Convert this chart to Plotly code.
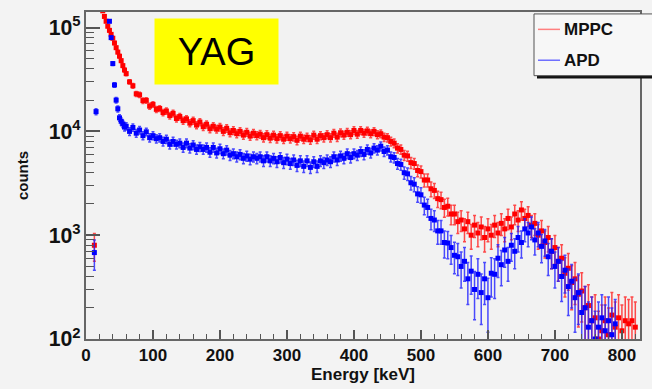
import numpy as np
import plotly.graph_objects as go

# ---------------- data ----------------
# bin centres [keV]: 2.5 keV steps below 60 keV, 5 keV steps above
energy_low = np.arange(12.5, 60, 2.5)
energy_high = np.arange(60, 825, 5)
energy = np.concatenate([energy_low, energy_high])

mppc_low = [800, 300000, 260000, 220000, 180000, 145000, 128000, 115000, 103000, 94000,
            86000, 79000, 71000, 64000, 58000, 53000, 48000, 43000, 39000]
mppc_high = [
    36000, 30000, 27500, 23000, 22500, 19800, 19900, 17500, 18200, 16300,   # 60-105
    16600, 15200, 15700, 14200, 14900, 13300, 13900, 12700, 13200, 12000,   # 110-155
    12700, 11500, 12300, 11100, 11700, 10600, 11200, 10500, 11000, 10000,   # 160-205
    10700, 9700, 10200, 9500, 10000, 9200, 9800, 9000, 9600, 9100,          # 210-255
    9400, 8700, 9300, 8600, 9200, 8500, 9100, 8400, 9000, 8500,             # 260-305
    8900, 8200, 9000, 8400, 8800, 8300, 9200, 8400, 9100, 8700,             # 310-355
    9300, 8700, 9600, 8800, 9700, 9200, 9800, 9300, 10200, 9400,            # 360-405
    10200, 9600, 10100, 9500, 10000, 9300, 9500, 8800, 8700, 8000,          # 410-455
    7700, 6900, 6700, 5900, 5800, 5000, 4900, 4200, 4100, 3400,             # 460-505
    3400, 2800, 2700, 2250, 2200, 1850, 1900, 1600, 1600, 1350,             # 510-555
    1400, 1150, 1350, 1000, 1250, 1050, 1200, 950, 1150, 1000,              # 560-605
    1250, 1050, 1300, 1150, 1450, 1200, 1600, 1400, 1750, 1450,             # 610-655
    1550, 1250, 1300, 1000, 1100, 850, 950, 700, 760, 560,                  # 660-705
    600, 430, 480, 350, 380, 270, 290, 200, 210, 150,                       # 710-755
    160, 100, 120, 150, 110, 170, 130, 160, 120, 150,                       # 760-805
    140, 150, 130,                                                          # 810-820
]

apd_low = [680, 15500, 400000, 350000, 300000, 260000, 220000, 190000, 165000, 115000,
           80000, 45000, 28000, 20000, 16500, 13500, 12500, 11800, 11000]
apd_high = [
    11200, 10000, 10900, 9600, 10300, 9100, 9900, 8700, 9100, 8500,         # 60-105
    8700, 8000, 8400, 7500, 8000, 7500, 7700, 7000, 7700, 6900,             # 110-155
    7400, 6700, 7100, 6700, 7000, 6300, 7000, 6200, 6800, 6100,             # 160-205
    6600, 5900, 6100, 5700, 6000, 5500, 5800, 5400, 5700, 5500,             # 210-255
    5700, 5200, 5700, 5200, 5500, 5100, 5600, 5000, 5400, 4900,             # 260-305
    5300, 4700, 5200, 4600, 5200, 4500, 5100, 4600, 5200, 5000,             # 310-355
    5300, 5100, 5700, 5300, 5800, 5500, 6100, 5600, 6100, 5900,             # 360-405
    6400, 6000, 6700, 6200, 6900, 6600, 7200, 6400, 6600, 5700,             # 410-455
    5600, 4900, 4800, 4000, 3900, 3200, 3100, 2500, 2450, 1950,             # 460-505
    1850, 1450, 1400, 1100, 1100, 850, 840, 760, 640, 620,                  # 510-555
    500, 560, 380, 450, 300, 420, 280, 380, 250, 430,                       # 560-605
    420, 600, 520, 720, 560, 800, 700, 950, 850, 1150,                      # 610-655
    1050, 1200, 900, 1050, 780, 880, 620, 700, 500, 560,                    # 660-705
    400, 460, 320, 360, 250, 280, 180, 200, 130, 150,                       # 710-755
    100, 130, 160, 120, 150, 110, 140, None, None, None,                    # 760-805
    None, None, None,                                                       # 810-820
]

series_names = ["MPPC", "APD"]
series_colors = ["#ff0000", "#0000ff"]
legend_line_colors = ["#ff8080", "#7070ff"]
x_ticks = [0, 100, 200, 300, 400, 500, 600, 700, 800]

COUNTS_PER_EVENT = 72.0   # histogram scale -> Poisson error bars

mppc = np.array(mppc_low + mppc_high, dtype=float)
apd = np.array(apd_low + [np.nan if v is None else v for v in apd_high], dtype=float)
mppc_err = np.sqrt(COUNTS_PER_EVENT * mppc)
apd_err = np.sqrt(COUNTS_PER_EVENT * apd)

FONT = "Arial, Liberation Sans, sans-serif"

# plot-area geometry in pixels (for paper-coordinate placement of decorations)
L, T, W, H = 86, 10, 554, 339
def px(xp):
    return (xp - L) / W
def py(yp):
    return 1 - (yp - T) / H

fig = go.Figure()
for name, y, err, col, ecol in [
    (series_names[0], mppc, mppc_err, series_colors[0], "rgba(255,30,30,0.8)"),
    (series_names[1], apd, apd_err, series_colors[1], "rgba(30,30,255,0.8)"),
]:
    fig.add_trace(go.Scatter(
        x=energy, y=y, mode="markers", name=name, showlegend=False,
        marker=dict(symbol="square", size=5, color=col, line=dict(width=0)),
        error_y=dict(type="data", array=err, visible=True, color=ecol,
                     thickness=1.5, width=1.5),
    ))

# ---- legend box (ROOT style, with drop shadow) ----
shapes = [
    dict(type="rect", xref="paper", yref="paper", layer="above",
         x0=px(537), x1=px(660), y0=py(79), y1=py(15),
         fillcolor="#111", line=dict(width=0)),
    dict(type="rect", xref="paper", yref="paper", layer="above",
         x0=px(534), x1=px(660), y0=py(76), y1=py(12),
         fillcolor="#f7f7f7", line=dict(color="#555", width=1)),
]
annotations = []
for i, (name, lc) in enumerate(zip(series_names, legend_line_colors)):
    yc = 28 + 32 * i
    shapes.append(dict(type="line", xref="paper", yref="paper", layer="above",
                       x0=px(538), x1=px(560), y0=py(yc), y1=py(yc),
                       line=dict(color=lc, width=1.5)))
    annotations.append(dict(text=name, xref="paper", yref="paper",
                            x=px(562), y=py(yc), xanchor="left", yanchor="middle",
                            showarrow=False,
                            font=dict(family=FONT, size=17, weight="bold", color="#111")))

annotations.append(dict(
    text="YAG", xref="paper", yref="paper", x=px(216.5), y=py(50.5),
    xanchor="center", yanchor="middle", showarrow=False,
    bgcolor="#ffff00", width=123, height=65, borderpad=0,
    font=dict(family=FONT, size=38, color="#000"),
))

fig.update_layout(
    width=652, height=389,
    margin=dict(l=L, r=652 - L - W, t=T, b=389 - T - H),
    paper_bgcolor="#f3f3f3",
    plot_bgcolor="#f2f2f2",
    font=dict(family=FONT, color="#111"),
    showlegend=False,
    xaxis=dict(
        range=[0, 827], tickvals=x_ticks, ticks="inside", ticklen=9,
        tickwidth=1.5, tickcolor="#555",
        minor=dict(ticks="inside", dtick=20, ticklen=5, tickwidth=1, tickcolor="#555"),
        showgrid=False, zeroline=False,
        showline=True, mirror=True, linecolor="#666", linewidth=2,
        tickfont=dict(family=FONT, size=17, weight="bold", color="#111"),
        title=dict(text="Energy [keV]", standoff=2,
                   font=dict(family=FONT, size=17, weight="bold", color="#111")),
    ),
    yaxis=dict(
        type="log", range=[2, 5.15], dtick=1, exponentformat="power",
        ticks="inside", ticklen=14, tickwidth=1.5, tickcolor="#555",
        minor=dict(ticks="inside", ticklen=8, tickwidth=1, tickcolor="#555", dtick="D1"),
        showgrid=False, zeroline=False,
        showline=True, mirror=True, linecolor="#666", linewidth=2,
        tickfont=dict(family=FONT, size=17, weight="bold", color="#111"),
        title=dict(text="counts", standoff=16,
                   font=dict(family=FONT, size=15, weight="bold", color="#111")),
    ),
    shapes=shapes,
    annotations=annotations,
)

fig.write_html("out.html")
